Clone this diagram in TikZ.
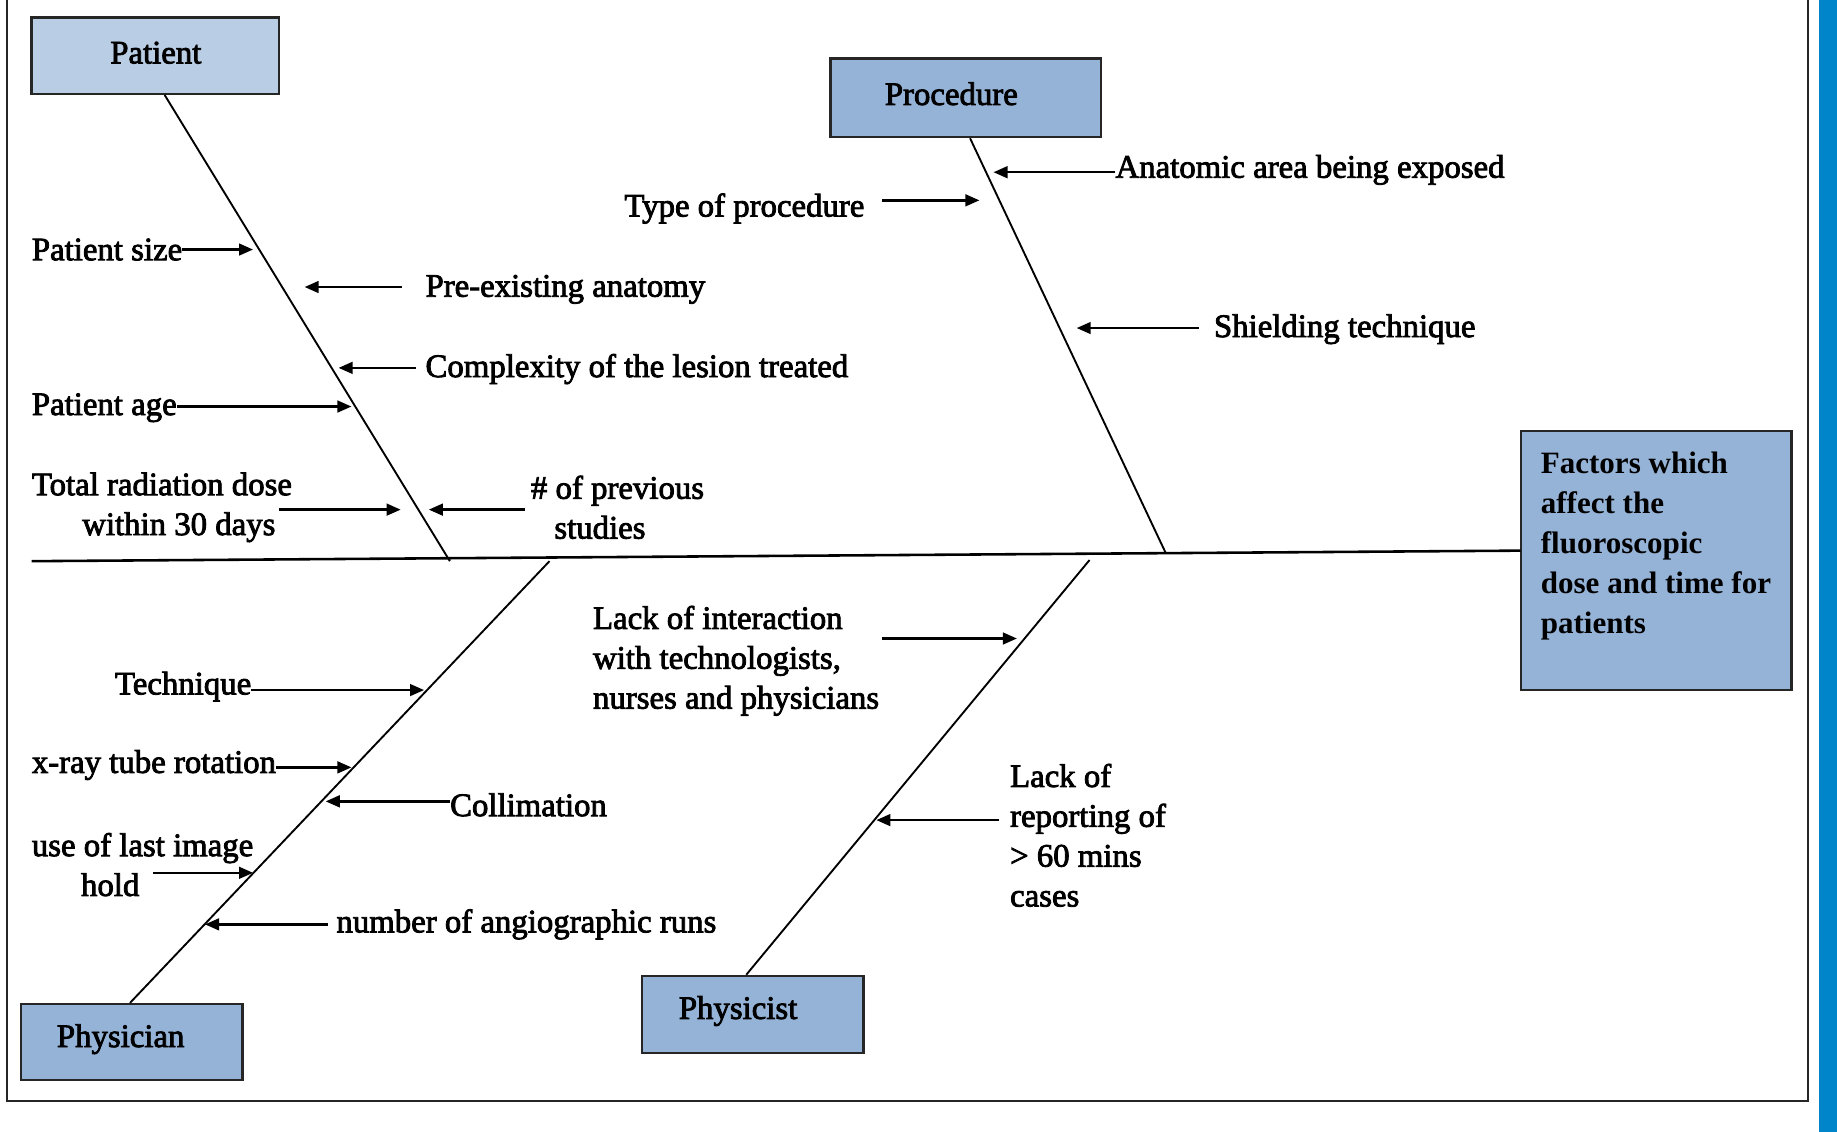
\documentclass[tikz,border=0pt]{standalone}
\usepackage{fontspec}
\setmainfont{Liberation Serif}
\newfontfamily\heavyfont{Liberation Serif}[FakeBold=2.5]
\usetikzlibrary{arrows.meta}
\definecolor{boxblue}{HTML}{95B3D7}
\definecolor{boxlight}{HTML}{B9CDE4}
\definecolor{barblue}{HTML}{0085CA}
\begin{document}
\begin{tikzpicture}[x=1pt,y=-1pt,
  lbl/.style={inner sep=0pt, font=\heavyfont\fontsize{28}{34}\selectfont},
  boxlbl/.style={inner sep=0pt, font=\heavyfont\fontsize{28}{34}\selectfont},
  box/.style={draw=black!85, line width=2pt, fill=boxblue, inner sep=0pt},
  bone/.style={line width=1.6pt},
  spine/.style={line width=2.2pt},
  arr/.style={line width=2pt, -{Triangle[length=12pt,width=10pt]}},
]
\useasboundingbox (0,0) rectangle (1568,966);
\fill[white] (0,0) rectangle (1568,966);
\fill[barblue] (1553,0) rectangle (1568,966);
\draw[line width=2pt, black!85] (6,-10) -- (6,940) -- (1543,940) -- (1543,-10);

% boxes
\node[box, fill=boxlight, minimum width=211pt, minimum height=65pt] (patient) at (132.5,47.5) {};
\node[boxlbl] (patientT) at (133,45) {Patient};
\node[box, minimum width=231pt, minimum height=67pt] (proc) at (824.5,83.5) {};
\node[boxlbl] (procT) at (812,80) {Procedure};
\node[box, minimum width=189pt, minimum height=65pt] (physician) at (112.5,889.5) {};
\node[boxlbl] (physicianT) at (103,887) {Physician};
\node[box, minimum width=189pt, minimum height=66pt] (physicist) at (642.5,866) {};
\node[boxlbl] (physicistT) at (630,863) {Physicist};
\node[box, minimum width=231pt, minimum height=221pt] (factors) at (1413.5,478.5) {};
\node[inner sep=0pt, anchor=west, align=left, font=\fontsize{26.5}{34.2}\selectfont\bfseries] (factorsT) at (1315,466)
  {Factors which\\affect the\\fluoroscopic\\dose and time for\\patients};

% spine and bones
\coordinate (spL) at (27,479);
\coordinate (spR) at (1298,470);
\draw[spine] (spL) -- (spR);
\coordinate (b1) at (384,479);
\coordinate (b2) at (995,472);
\coordinate (b3) at (469,479);
\coordinate (b4) at (930,478);
\draw[bone] ([xshift=8pt]patient.south) -- (b1);
\draw[bone] ([xshift=3.5pt]proc.south) -- (b2);
\draw[bone] (b3) -- ([xshift=-1.5pt]physician.north);
\draw[bone] (b4) -- ([xshift=-5.5pt]physicist.north);

% tips
\coordinate (t1) at (216,213);
\coordinate (t2) at (260,245);
\coordinate (t3) at (289,314);
\coordinate (t4) at (300,347);
\coordinate (t5) at (342,435);
\coordinate (t6) at (366,435);
\coordinate (t7) at (836,171);
\coordinate (t8) at (848,147);
\coordinate (t9) at (919,280);
\coordinate (t10) at (868,545);
\coordinate (t11) at (748,700);
\coordinate (t12) at (362,589);
\coordinate (t13) at (300,655);
\coordinate (t14) at (278,684);
\coordinate (t15) at (216,745);
\coordinate (t16) at (175,789);
\coordinate (s5) at (238,435);
\coordinate (s10) at (753,545);
\coordinate (s15) at (131,745);

% labels
\node[lbl, anchor=west] (psize) at (27,213) {Patient size};
\node[lbl, anchor=west] (preex) at (363,247) {Pre-existing anatomy};
\node[lbl, anchor=west] (complex) at (363,315) {Complexity of the lesion treated};
\node[lbl, anchor=west] (page) at (27,348) {Patient age};
\node[lbl, anchor=west, align=left] (total) at (27,433) {Total radiation dose\\\hspace*{43pt}within 30 days};
\node[lbl, anchor=west, align=left] (prev) at (453,433) {\# of previous\\\hspace*{20pt}studies};
\node[lbl, anchor=east] (typeproc) at (738,178) {Type of procedure};
\node[lbl, anchor=west] (anat) at (952,145) {Anatomic area being exposed};
\node[lbl, anchor=west] (shield) at (1036,281) {Shielding technique};
\node[lbl, anchor=west, align=left] (lackint) at (506,564) {Lack of interaction\\with technologists,\\nurses and physicians};
\node[lbl, anchor=west, align=left] (lackrep) at (862,713) {Lack of\\reporting of\\> 60 mins\\cases};
\node[lbl, anchor=west] (tech) at (98,586) {Technique};
\node[lbl, anchor=west] (xray) at (27,653) {x-ray tube rotation};
\node[lbl, anchor=west] (coll) at (384,687) {Collimation};
\node[lbl, anchor=west, align=left] (lastimg) at (27,738) {use of last image\\\hspace*{42pt}hold};
\node[lbl, anchor=west] (angio) at (287,789) {number of angiographic runs};

% arrows
\draw[arr] (psize.east |- t1) -- (t1);
\draw[arr] ([xshift=-20pt]preex.west |- t2) -- (t2);
\draw[arr] ([xshift=-8pt]complex.west |- t3) -- (t3);
\draw[arr] (page.east |- t4) -- (t4);
\draw[arr] (s5) -- (t5);
\draw[arr] ([xshift=-5pt]prev.west |- t6) -- (t6);
\draw[arr] ([xshift=15pt]typeproc.east |- t7) -- (t7);
\draw[arr] (anat.west |- t8) -- (t8);
\draw[arr] ([xshift=-13pt]shield.west |- t9) -- (t9);
\draw[arr] (s10) -- (t10);
\draw[arr] ([xshift=-9pt]lackrep.west |- t11) -- (t11);
\draw[arr] (tech.east |- t12) -- (t12);
\draw[arr] (xray.east |- t13) -- (t13);
\draw[arr] (coll.west |- t14) -- (t14);
\draw[arr] (s15) -- (t15);
\draw[arr] ([xshift=-7pt]angio.west |- t16) -- (t16);
\end{tikzpicture}
\end{document}
